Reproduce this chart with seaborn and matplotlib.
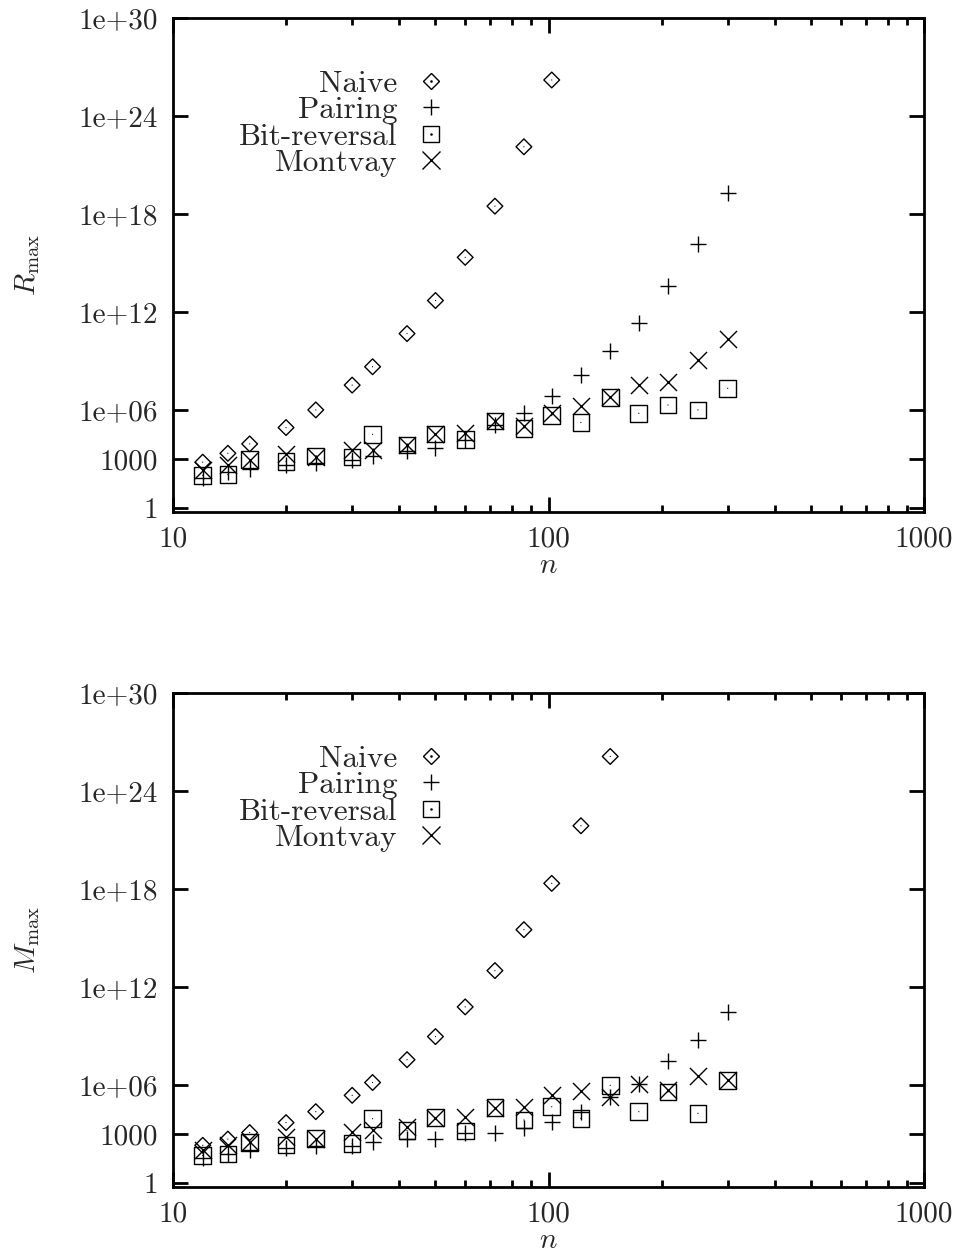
import numpy as np
import pandas as pd
import seaborn as sns
import matplotlib
matplotlib.use("Agg")
import matplotlib.pyplot as plt
from matplotlib.ticker import FixedLocator, FixedFormatter, NullLocator, NullFormatter
from matplotlib.lines import Line2D

# ---------------- data ----------------
n_vals = [12, 14, 16, 20, 24, 30, 34, 42, 50, 60, 72, 86, 102, 122, 146, 174, 208, 250, 300]

# R_max (top panel)
r_naive = [6.3e2, 2.2e3, 8.3e3, 8.3e4, 1.0e6, 3.3e7, 4.4e8, 4.7e10, 5.0e12, 2.2e15, 3.0e18,
           1.3e22, 1.6e26]
r_pairing = [6.8e1, 1.5e2, 2.4e2, 4.4e2, 5.5e2, 8.9e2, 1.5e3, 2.9e3, 4.6e3, 1.5e4, 1.2e5,
             6.2e5, 7.1e6, 1.4e8, 4.0e9, 2.2e11, 4.0e13, 1.5e16, 1.8e19]
r_bitrev = [9.8e1, 1.1e2, 8.9e2, 7.1e2, 1.5e3, 1.3e3, 3.2e4, 7.2e3, 3.4e4, 1.6e4, 2.1e5,
            7.6e4, 4.5e5, 1.7e5, 5.9e6, 6.2e5, 2.0e6, 1.0e6, 2.1e7]
r_montvay = [2.2e2, 4.4e2, 8.9e2, 2.0e3, 1.4e3, 3.6e3, 3.3e3, 7.2e3, 3.4e4, 3.7e4, 2.2e5,
             1.0e5, 6.8e5, 1.7e6, 5.9e6, 3.3e7, 5.2e7, 1.1e9, 2.3e10]

# M_max (bottom panel)
m_naive = [2.0e2, 4.8e2, 1.2e3, 4.9e3, 2.3e4, 2.3e5, 1.4e6, 3.5e7, 9.1e8, 6.0e10, 1.0e13,
           3.2e15, 2.2e18, 7.4e21, 1.3e26]
m_pairing = [3.5e1, 5.6e1, 1.1e2, 1.4e2, 1.9e2, 1.7e2, 3.4e2, 4.8e2, 4.8e2, 1.2e3, 1.1e3,
             2.2e3, 5.6e3, 2.3e4, 1.9e5, 1.2e6, 2.9e7, 5.8e8, 2.8e10]
m_bitrev = [4.8e1, 6.0e1, 3.0e2, 2.1e2, 5.0e2, 2.5e2, 8.5e3, 1.6e3, 9.8e3, 1.5e3, 4.0e4,
            7.1e3, 4.6e4, 8.9e3, 9.5e5, 2.3e4, 3.7e5, 1.8e4, 1.9e6]
m_montvay = [9.8e1, 2.1e2, 3.0e2, 6.9e2, 5.0e2, 1.4e3, 1.7e3, 2.8e3, 9.8e3, 1.1e4, 4.0e4,
             4.6e4, 2.3e5, 4.2e5, 1.9e5, 1.2e6, 4.8e5, 3.4e6, 1.9e6]

series_names = ["Naive", "Pairing", "Bit-reversal", "Montvay"]
y_ticks = [1, 1e3, 1e6, 1e12, 1e18, 1e24, 1e30]
y_tick_labels = ["1", "1000", "1e+06", "1e+12", "1e+18", "1e+24", "1e+30"]
x_ticks = [10, 100, 1000]
x_tick_labels = ["10", "100", "1000"]
x_minor = [20, 30, 40, 50, 60, 70, 80, 90, 200, 300, 400, 500, 600, 700, 800, 900]

# ---------------- style ----------------
sns.set_style("ticks")
plt.rcParams.update({
    "font.family": ["cmr10"],
    "mathtext.fontset": "cm",
    "axes.unicode_minus": False,
    "axes.linewidth": 2.0,
    "axes.edgecolor": "black",
    "figure.facecolor": "white",
    "axes.facecolor": "white",
})
FS = 21
LEG_FS = 22.5

# marker specs: (marker, size_pt, filled_with_dot)
specs = {
    "Naive": ("D", 8.0, True),
    "Pairing": ("+", 11.5, False),
    "Bit-reversal": ("s", 12.0, True),
    "Montvay": ("x", 12.3, False),
}
MLW = 1.0

fig = plt.figure(figsize=(9.57, 12.54), dpi=100)
ax_w = (924 - 173) / 957
ax_h = 494 / 1254
ax_top = fig.add_axes([173 / 957, 1 - 512 / 1254, ax_w, ax_h])
ax_bot = fig.add_axes([173 / 957, 1 - 1187 / 1254, ax_w, ax_h])


def draw_panel(ax, data, ylabel):
    for name, vals in zip(series_names, data):
        mk, ms, dot = specs[name]
        df = pd.DataFrame({"n": n_vals[:len(vals)], "v": vals})
        if mk in ("+", "x"):
            sns.scatterplot(data=df, x="n", y="v", ax=ax, marker=mk, s=ms ** 2,
                            color="black", linewidth=MLW, zorder=3)
        else:
            sns.scatterplot(data=df, x="n", y="v", ax=ax, marker=mk, s=ms ** 2,
                            facecolor="none", edgecolor="black", color="black",
                            linewidth=MLW, zorder=3)
        if dot:
            sns.scatterplot(data=df, x="n", y="v", ax=ax, marker=".", s=3,
                            color="black", edgecolor="none", linewidth=0, zorder=4)

    ax.set_xscale("log")
    ax.set_yscale("log")
    ax.set_xlim(10, 1000)
    ax.set_ylim(0.56, 1e30)

    ax.xaxis.set_major_locator(FixedLocator(x_ticks))
    ax.xaxis.set_major_formatter(FixedFormatter(x_tick_labels))
    ax.xaxis.set_minor_locator(FixedLocator(x_minor))
    ax.xaxis.set_minor_formatter(NullFormatter())
    ax.yaxis.set_major_locator(FixedLocator(y_ticks))
    ax.yaxis.set_major_formatter(FixedFormatter(y_tick_labels))
    ax.yaxis.set_minor_locator(NullLocator())

    ax.tick_params(which="both", direction="in", top=True, right=True,
                   width=2.0, color="black", labelsize=FS)
    ax.tick_params(which="major", length=11)
    ax.tick_params(which="minor", length=5)
    ax.tick_params(axis="x", which="major", pad=10)
    ax.tick_params(axis="y", which="major", pad=11)
    for sp in ax.spines.values():
        sp.set_visible(True)
        sp.set_linewidth(2.0)

    ax.set_xlabel(r"$n$", fontsize=FS)
    ax.xaxis.set_label_coords(0.5, -0.082)
    ax.xaxis.label.set_va("top")
    ax.set_ylabel(ylabel, fontsize=FS)
    ax.yaxis.set_label_coords(-0.175, 0.5)

    handles = []
    for name in series_names:
        mk, ms, dot = specs[name]
        if mk in ("+", "x"):
            h = Line2D([], [], ls="none", marker=mk, ms=ms, mec="black", mew=MLW)
        else:
            h = (Line2D([], [], ls="none", marker=mk, ms=ms, mfc="none", mec="black", mew=MLW),
                 Line2D([], [], ls="none", marker=".", ms=1.7, color="black"))
        handles.append(h)
    ax.legend(handles, series_names, loc="upper right", bbox_to_anchor=(0.363, 0.895),
              markerfirst=False, frameon=False, borderpad=0, borderaxespad=0,
              handlelength=0.95, handletextpad=0.6, labelspacing=-0.05,
              fontsize=LEG_FS)


draw_panel(ax_top, [r_naive, r_pairing, r_bitrev, r_montvay], r"$R_{\max}$")
draw_panel(ax_bot, [m_naive, m_pairing, m_bitrev, m_montvay], r"$M_{\max}$")

fig.savefig("out.png", dpi=100)
